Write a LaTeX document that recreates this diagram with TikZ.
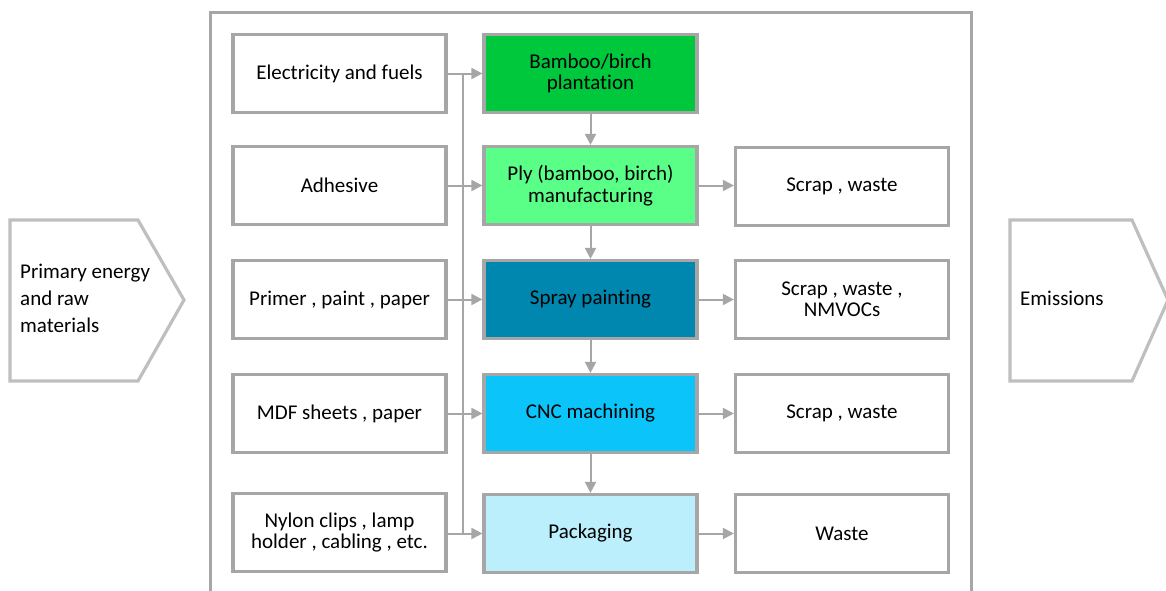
\documentclass[tikz,border=0pt]{standalone}
\usepackage{fontspec}
\setmainfont{Carlito}[RawFeature={-liga}]
\usetikzlibrary{arrows.meta}
\definecolor{bord}{HTML}{A6A6A6}
\definecolor{pent}{HTML}{BFBFBF}
\definecolor{cBamboo}{HTML}{00C83C}
\definecolor{cPly}{HTML}{5AFF87}
\definecolor{cSpray}{HTML}{0087B0}
\definecolor{cCNC}{HTML}{0AC4FA}
\definecolor{cPack}{HTML}{BBEFFC}
\begin{document}
\begin{tikzpicture}[x=1pt,y=-1pt,
  box/.style={draw=bord, line width=3.2pt, fill=white, minimum width=213pt, minimum height=78pt,
    align=center, inner sep=2pt, font=\fontsize{21}{21.5}\selectfont},
  conn/.style={draw=bord, line width=2pt, -{Triangle[length=11pt,width=11pt]}},
  bus/.style={draw=bord, line width=2pt},
  pentshape/.style={draw=pent, line width=3.2pt},
  penttext/.style={anchor=west, align=left, inner sep=0pt, font=\fontsize{21}{27}\selectfont}]
\useasboundingbox (0,0) rectangle (1166,590);
\clip (0,0) rectangle (1166,590);
% outer frame
\draw[draw=bord, line width=3pt] (210,610) -- (210,12) -- (971,12) -- (971,610);
% pentagons
\draw[pentshape] (10,220) -- (138,220) -- (184,300) -- (138,381) -- (10,381) -- cycle;
\draw[pentshape] (1010,220) -- (1132,220) -- (1168,300) -- (1132,381) -- (1010,381) -- cycle;
\node[penttext] (pin) at (20,298) {Primary energy\\and raw\\materials};
\node[penttext] (pout) at (1020,298) {Emissions};
% left column
\node[box] (l1) at (339.5,73.5) {Electricity and fuels};
\node[box] (l2) at (339.5,185.5) {Adhesive};
\node[box] (l3) at (339.5,299.5) {Primer , paint , paper};
\node[box] (l4) at (339.5,413.5) {MDF sheets , paper};
\node[box] (l5) at (339.5,532.5) {Nylon clips , lamp\\holder , cabling , etc.};
% center column
\node[box, fill=cBamboo] (c1) at (590.5,73.5) {Bamboo/birch\\plantation};
\node[box, fill=cPly] (c2) at (590.5,185.5) {Ply (bamboo, birch)\\manufacturing};
\node[box, fill=cSpray] (c3) at (590.5,299.5) {Spray painting};
\node[box, fill=cCNC] (c4) at (590.5,413.5) {CNC machining};
\node[box, fill=cPack] (c5) at (590.5,533.5) {Packaging};
% right column
\node[box] (r2) at (842,186.5) {Scrap , waste};
\node[box] (r3) at (842,299.5) {Scrap , waste ,\\NMVOCs};
\node[box] (r4) at (842,413.5) {Scrap ,  waste};
\node[box] (r5) at (842,533.5) {Waste};
% bus
\coordinate (b1) at (463,73.5);
\coordinate (b5) at (463,533.5);
\draw[bus] (b1) -- (b5);
% inputs
\draw[conn] (l1.east) -- (c1.west);
\draw[conn] (l2.east) -- (c2.west);
\draw[conn] (l3.east) -- (c3.west);
\draw[conn] (l4.east) -- (c4.west);
\draw[conn] (l5.east |- c5.west) -- (c5.west);
% chain
\draw[conn] (c1.south) -- (c2.north);
\draw[conn] (c2.south) -- (c3.north);
\draw[conn] (c3.south) -- (c4.north);
\draw[conn] (c4.south) -- (c5.north);
% outputs
\draw[conn] (c2.east) -- (r2.west |- c2.east);
\draw[conn] (c3.east) -- (r3.west);
\draw[conn] (c4.east) -- (r4.west);
\draw[conn] (c5.east) -- (r5.west);
\end{tikzpicture}
\end{document}
